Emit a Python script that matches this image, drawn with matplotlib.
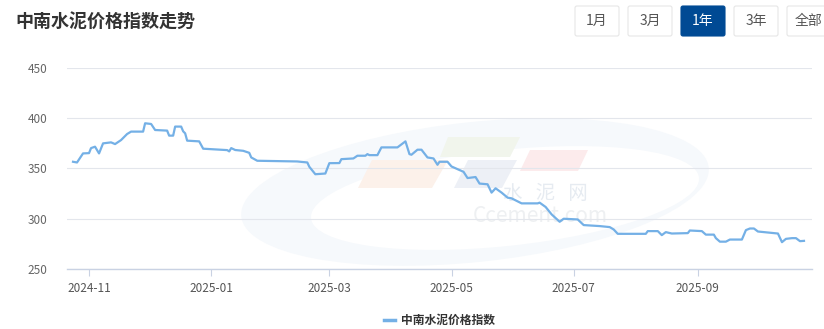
import numpy as np
import pandas as pd
import matplotlib
matplotlib.use("Agg")
import matplotlib.pyplot as plt
import matplotlib.dates as mdates
from matplotlib.patches import FancyBboxPatch, Polygon, Ellipse

plt.rcParams['font.family'] = ['Noto Sans CJK SC', 'DejaVu Sans']

# 数据
dates = [
    "2024-10-24", "2024-10-26", "2024-10-29", "2024-11-01", "2024-11-02", "2024-11-04",
    "2024-11-06", "2024-11-08", "2024-11-12", "2024-11-14", "2024-11-17", "2024-11-20",
    "2024-11-22", "2024-11-28", "2024-11-29", "2024-12-02", "2024-12-04", "2024-12-10",
    "2024-12-11", "2024-12-13", "2024-12-14", "2024-12-17", "2024-12-18", "2024-12-19",
    "2024-12-20", "2024-12-26", "2024-12-28", "2025-01-09", "2025-01-10", "2025-01-11",
    "2025-01-13", "2025-01-17", "2025-01-20", "2025-01-21", "2025-01-24", "2025-02-13",
    "2025-02-18", "2025-02-19", "2025-02-22", "2025-02-27", "2025-03-01", "2025-03-06",
    "2025-03-07", "2025-03-13", "2025-03-15", "2025-03-19", "2025-03-20", "2025-03-21",
    "2025-03-25", "2025-03-27", "2025-04-04", "2025-04-08", "2025-04-10", "2025-04-11",
    "2025-04-14", "2025-04-16", "2025-04-19", "2025-04-22", "2025-04-24", "2025-04-25",
    "2025-04-29", "2025-05-01", "2025-05-07", "2025-05-09", "2025-05-13", "2025-05-15",
    "2025-05-19", "2025-05-21", "2025-05-23", "2025-05-26", "2025-05-29", "2025-05-31",
    "2025-06-05", "2025-06-13", "2025-06-14", "2025-06-17", "2025-06-20", "2025-06-24",
    "2025-06-26", "2025-07-03", "2025-07-06", "2025-07-14", "2025-07-19", "2025-07-21",
    "2025-07-23", "2025-08-06", "2025-08-07", "2025-08-12", "2025-08-14", "2025-08-16",
    "2025-08-19", "2025-08-27", "2025-08-28", "2025-09-03", "2025-09-05", "2025-09-09",
    "2025-09-10", "2025-09-12", "2025-09-15", "2025-09-17", "2025-09-23", "2025-09-25",
    "2025-09-27", "2025-09-29", "2025-10-01", "2025-10-11", "2025-10-13", "2025-10-15",
    "2025-10-18", "2025-10-20", "2025-10-22", "2025-10-24",
]
index_values = [
    356.7, 356.0, 365.0, 365.3, 370.3, 371.7,
    365.0, 375.0, 376.0, 374.3, 378.3, 384.3,
    386.7, 386.7, 395.0, 394.3, 388.3, 387.7,
    382.7, 382.7, 391.7, 391.7, 387.0, 385.0,
    377.7, 377.0, 369.7, 368.3, 367.0, 370.3,
    368.4, 367.6, 365.6, 361.0, 357.7, 357.0,
    356.0, 351.7, 344.3, 345.0, 355.3, 355.4,
    359.3, 360.0, 362.7, 362.7, 364.3, 363.3,
    363.3, 371.0, 371.0, 377.0, 364.3, 363.7,
    368.7, 368.7, 361.0, 360.0, 353.7, 356.7,
    356.7, 352.0, 346.7, 340.5, 341.5, 335.0,
    334.3, 326.0, 330.3, 326.0, 321.0, 320.3,
    315.3, 315.3, 316.0, 311.7, 304.3, 297.0,
    300.0, 299.3, 293.7, 292.7, 291.7, 289.3,
    285.0, 285.0, 287.7, 287.7, 283.7, 286.7,
    285.3, 285.7, 288.3, 287.7, 284.2, 284.2,
    280.7, 277.2, 277.2, 279.3, 279.3, 288.7,
    290.3, 290.3, 287.3, 285.3, 276.7, 280.0,
    280.7, 280.7, 277.7, 278.0,
]
series_name = "中南水泥价格指数"
chart_title = "中南水泥价格指数走势"
range_buttons = ["1月", "3月", "1年", "3年", "全部"]
active_button = "1年"
yticks = [250, 300, 350, 400, 450]
xtick_dates = ["2024-11-01", "2025-01-01", "2025-03-01", "2025-05-01", "2025-07-01", "2025-09-01"]

x = pd.to_datetime(dates)

W, H = 824, 329
fig = plt.figure(figsize=(W / 100, H / 100), dpi=100)
fig.patch.set_facecolor("white")

# 背景水印（淡）
bg = fig.add_axes([0, 0, 1, 1], zorder=0)
bg.set_xlim(0, W)
bg.set_ylim(H, 0)
bg.axis("off")
bg.add_patch(Ellipse((475, 192), 470, 140, angle=-6, facecolor="#f6f9fc", edgecolor="none"))
bg.add_patch(Ellipse((505, 198), 390, 96, angle=-6, facecolor="white", edgecolor="none"))
bg.add_patch(Polygon([(372, 160), (448, 160), (432, 188), (358, 188)], closed=True,
                     facecolor="#fcf1ea", edgecolor="none"))
bg.add_patch(Polygon([(468, 160), (517, 160), (502, 188), (454, 188)], closed=True,
                     facecolor="#edf0f6", edgecolor="none"))
bg.add_patch(Polygon([(448, 137), (520, 137), (510, 157), (440, 157)], closed=True,
                     facecolor="#f1f5ec", edgecolor="none"))
bg.add_patch(Polygon([(530, 150), (588, 150), (578, 171), (520, 171)], closed=True,
                     facecolor="#fcebec", edgecolor="none"))
bg.text(545, 193, "水   泥   网", fontsize=14, color="#e6ebf1", ha="center", va="center")
bg.text(540, 216, "Ccement.com", fontsize=15, color="#eef0f2", ha="center", va="center")

# 主图
ax = fig.add_axes([67 / W, 1 - 269 / H, (812 - 67) / W, (269 - 68) / H], zorder=1)
ax.patch.set_alpha(0)
ax.plot(x, index_values, color="#74b0e6", linewidth=1.6, label=series_name, zorder=3)

ax.set_ylim(250, 450)
ax.set_yticks(yticks)
ax.set_xlim(pd.Timestamp("2024-10-21"), pd.Timestamp("2025-10-28"))
ax.set_xticks(pd.to_datetime(xtick_dates))
ax.xaxis.set_major_formatter(mdates.DateFormatter("%Y-%m"))

ax.grid(axis="y", color="#e3e6ec", linewidth=0.8)
for s in ["top", "right", "left"]:
    ax.spines[s].set_visible(False)
ax.spines["bottom"].set_color("#c9d2e3")
ax.spines["bottom"].set_linewidth(1.0)
ax.tick_params(axis="y", length=0, pad=14, labelsize=8.5, labelcolor="#666666")
ax.tick_params(axis="x", length=5, width=0.8, color="#c9d2e3", pad=4,
               labelsize=8.5, labelcolor="#555555")

# 图例
leg = ax.legend(loc="upper center", bbox_to_anchor=(0.5, -0.17), frameon=False,
                fontsize=8.5, handlelength=1.0, handletextpad=0.5)
for t in leg.get_texts():
    t.set_color("#333333")
    t.set_fontweight("bold")
for l in leg.get_lines():
    l.set_linewidth(2.5)

# 标题
fig.text(15 / W, 1 - 22 / H, chart_title, fontsize=13, fontweight="bold",
         color="#333333", ha="left", va="center")

# 时间范围按钮
ov = fig.add_axes([0, 0, 1, 1], zorder=5)
ov.set_xlim(0, W)
ov.set_ylim(H, 0)
ov.axis("off")
bx = 575
for name in range_buttons:
    bw = 44
    active = name == active_button
    ov.add_patch(FancyBboxPatch((bx, 6), bw, 30, boxstyle="round,pad=0,rounding_size=2",
                                facecolor="#004a94" if active else "white",
                                edgecolor="#004a94" if active else "#e6e6e6", linewidth=0.8))
    ov.text(bx + bw / 2, 21, name, fontsize=10, ha="center", va="center",
            color="white" if active else "#555555")
    bx += bw + 9

fig.savefig("out.png", dpi=100)
